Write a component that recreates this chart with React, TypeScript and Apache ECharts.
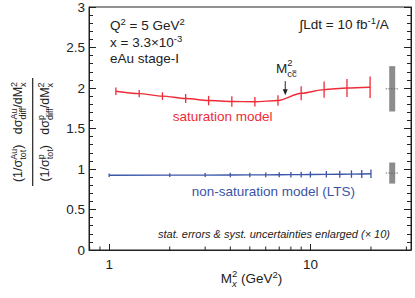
import React, { useEffect, useRef } from "react";
import * as echarts from "echarts";

const FONT = '"Liberation Sans", Arial, Helvetica, sans-serif';
const RED = "#ee2c38";
const BLUE = "#3a55a8";
const INK = "#222222";

// ---- data ----
const redX = [1.08, 1.41, 1.84, 2.4, 3.12, 4.07, 5.3, 6.9, 9.0, 11.7, 15.2, 19.8];
const redY = [1.96, 1.93, 1.9, 1.87, 1.845, 1.833, 1.83, 1.845, 1.935, 1.98, 2.0, 2.01];
const redErr = [0.045, 0.045, 0.047, 0.055, 0.058, 0.065, 0.058, 0.065, 0.086, 0.1, 0.11, 0.132];

const blueX = [1, 2, 3, 4, 5, 6, 7, 8, 9, 10, 12, 14, 16, 18, 20];
const blueY = [0.922, 0.924, 0.925, 0.926, 0.927, 0.928, 0.929, 0.93, 0.931, 0.932, 0.934, 0.936, 0.937, 0.939, 0.941];
const blueErr = [0.022, 0.024, 0.025, 0.027, 0.028, 0.03, 0.032, 0.034, 0.036, 0.038, 0.04, 0.043, 0.046, 0.05, 0.053];

// systematic uncertainty bands: [x, centre, half-height]
const sysRed = [25.5, 1.99, 0.28];
const sysBlue = [25.5, 0.95, 0.13];

const xMajorLabels = [1, 10];
const xMinorTicks = [0.8, 0.9, 2, 3, 4, 5, 6, 7, 8, 9, 20, 30];
const X_MIN = 0.794;
const X_MAX = 31.62;
const yTicks = ["0", "0.5", "1", "1.5", "2", "2.5", "3"];
const mccX = 7.5;

// ---- text layout helpers ----
let ctx: CanvasRenderingContext2D | null = null;
function tw(text: string, size: number, italic = false): number {
  if (!ctx) ctx = document.createElement("canvas").getContext("2d");
  if (!ctx) return text.length * size * 0.55;
  ctx.font = `${italic ? "italic " : ""}${size}px ${FONT}`;
  return ctx.measureText(text).width;
}
type Seg = { t: string; s: number; dy?: number; it?: boolean };
type Item = Seg | { stack: [Seg, Seg] };
function segW(g: Item): number {
  if ("stack" in g) return Math.max(tw(g.stack[0].t, g.stack[0].s, g.stack[0].it), tw(g.stack[1].t, g.stack[1].s, g.stack[1].it));
  return tw(g.t, g.s, g.it);
}
function build(items: Item[], x0: number, yb: number, fill: string, align: "left" | "center" = "left"): any[] {
  const total = items.reduce((a, g) => a + segW(g), 0);
  let x = align === "center" ? x0 - total / 2 : x0;
  const out: any[] = [];
  const put = (g: Seg, px: number) =>
    out.push({
      type: "text",
      x: px,
      y: yb + (g.dy || 0) - 0.35 * g.s,
      silent: true,
      style: {
        text: g.t,
        fill,
        fontSize: g.s,
        fontFamily: FONT,
        fontStyle: g.it ? "italic" : "normal",
        align: "left",
        textAlign: "left",
        verticalAlign: "middle",
        textVerticalAlign: "middle",
      },
    });
  for (const g of items) {
    if ("stack" in g) {
      put(g.stack[0], x);
      put(g.stack[1], x);
    } else put(g, x);
    x += segW(g);
  }
  return out;
}

const M = 13.5; // main font size
const S = 9.5; // script size
const SUP = -5.5;

function yLabelLine(target: string): Item[] {
  const m = 12.5;
  const s = 9;
  return [
    { t: "(1/σ", s: m },
    { stack: [{ t: target, s, dy: -5.5 }, { t: "tot", s, dy: 3.5 }] },
    { t: ")   dσ", s: m },
    { stack: [{ t: target, s, dy: -5.5 }, { t: "diff", s, dy: 3.5 }] },
    { t: "/dM", s: m },
    { stack: [{ t: "2", s, dy: -5.5 }, { t: "x", s, dy: 3.5 }] },
  ];
}

export default function App() {
  const ref = useRef<HTMLDivElement>(null);
  useEffect(() => {
    if (!ref.current) return;
    const chart = echarts.init(ref.current, undefined, { renderer: "svg" });
    const axisLine = { show: true, lineStyle: { color: INK, width: 1 } };
    const option: any = {
      animation: false,
      backgroundColor: "#ffffff",
      grid: { left: 89, right: 4, top: 5, bottom: 48, show: true, borderColor: INK, borderWidth: 1 },
      xAxis: {
        type: "log",
        logBase: 10,
        min: X_MIN,
        max: X_MAX,
        axisLine,
        axisTick: { show: true, inside: true, length: 6, lineStyle: { color: INK } },
        minorTick: { show: false },
        splitLine: { show: false },
        axisLabel: {
          margin: 7,
          fontSize: M,
          fontFamily: FONT,
          color: INK,
          showMinLabel: false,
          showMaxLabel: false,
          formatter: (v: number) => {
            const hit = xMajorLabels.find((m) => Math.abs(m - v) < 1e-6 * m);
            return hit !== undefined ? String(hit) : "";
          },
        },
      },
      yAxis: [
        {
          type: "value",
          min: 0,
          max: 3,
          interval: 0.5,
          axisLine,
          axisTick: { show: true, inside: true, length: 7, lineStyle: { color: INK } },
          minorTick: { show: true, splitNumber: 5, length: 4, lineStyle: { color: INK } },
          splitLine: { show: false },
          axisLabel: {
            margin: 4,
            fontSize: M,
            fontFamily: FONT,
            color: INK,
            formatter: (v: number) => yTicks[Math.round(v * 2)] ?? "",
          },
        },
        {
          type: "value",
          position: "right",
          min: 0,
          max: 3,
          interval: 0.5,
          axisLine,
          axisTick: { show: true, inside: true, length: 7, lineStyle: { color: INK } },
          minorTick: { show: true, splitNumber: 5, length: 4, lineStyle: { color: INK } },
          splitLine: { show: false },
          axisLabel: { show: false },
        },
      ],
      series: [
        {
          type: "custom",
          name: "xminor",
          silent: true,
          z: 5,
          data: xMinorTicks.map((v) => [v, 0]),
          renderItem: (params: any, api: any) => {
            const p = api.coord([api.value(0), 0]);
            return {
              type: "line",
              shape: { x1: p[0], y1: p[1], x2: p[0], y2: p[1] - 3.5 },
              style: { stroke: INK, lineWidth: 1 },
            };
          },
        },
        {
          type: "line",
          name: "saturation",
          data: redX.map((x, i) => [x, redY[i]]),
          smooth: 0.3,
          smoothMonotone: "x",
          showSymbol: false,
          lineStyle: { color: RED, width: 1.4 },
          z: 3,
        },
        {
          type: "line",
          name: "non-saturation",
          data: blueX.map((x, i) => [x, blueY[i]]),
          showSymbol: false,
          lineStyle: { color: BLUE, width: 1.4 },
          z: 3,
        },
        {
          type: "custom",
          name: "redErr",
          silent: true,
          z: 4,
          data: redX.map((x, i) => [x, redY[i], redErr[i]]),
          renderItem: (params: any, api: any) => {
            const x = api.value(0), y = api.value(1), e = api.value(2);
            const a = api.coord([x, y - e]);
            const b = api.coord([x, y + e]);
            return { type: "line", shape: { x1: a[0], y1: a[1], x2: b[0], y2: b[1] }, style: { stroke: RED, lineWidth: 1.3 } };
          },
        },
        {
          type: "custom",
          name: "blueErr",
          silent: true,
          z: 4,
          data: blueX.map((x, i) => [x, blueY[i], blueErr[i]]),
          renderItem: (params: any, api: any) => {
            const x = api.value(0), y = api.value(1), e = api.value(2);
            const a = api.coord([x, y - e]);
            const b = api.coord([x, y + e]);
            return { type: "line", shape: { x1: a[0], y1: a[1], x2: b[0], y2: b[1] }, style: { stroke: BLUE, lineWidth: 1.3 } };
          },
        },
        {
          type: "custom",
          name: "sys",
          silent: true,
          z: 4,
          data: [sysRed, sysBlue],
          renderItem: (params: any, api: any) => {
            const x = api.value(0), y = api.value(1), h = api.value(2);
            const top = api.coord([x, y + h]);
            const bot = api.coord([x, y - h]);
            const mid = api.coord([x, y]);
            return {
              type: "group",
              children: [
                { type: "rect", shape: { x: top[0] - 3, y: top[1], width: 6, height: bot[1] - top[1] }, style: { fill: "#8c8c8c" } },
                {
                  type: "line",
                  shape: { x1: mid[0] - 6.5, y1: mid[1], x2: mid[0] + 6.5, y2: mid[1] },
                  style: { stroke: "#555", lineWidth: 0.8, lineDash: [1.5, 1.2] },
                },
              ],
            };
          },
        },
      ],
    };
    chart.setOption(option);

    const aTop = chart.convertToPixel({ xAxisIndex: 0, yAxisIndex: 0 }, [mccX, 2.085]) as number[];
    const aTip = chart.convertToPixel({ xAxisIndex: 0, yAxisIndex: 0 }, [mccX, 1.91]) as number[];

    // M^2_{c cbar} label with an overline on the second c
    const mccX0 = 276;
    const mccYb = 73.3;
    const cX = mccX0 + tw("M", M) + tw("c", S);
    const cW = tw("c", S);
    const barY = mccYb + 3.5 - 0.55 * S - 0.6;

    const graphics: any[] = [
      ...build([{ t: "Q", s: M }, { t: "2", s: S, dy: SUP }, { t: " = 5 GeV", s: M }, { t: "2", s: S, dy: SUP }], 110, 30.5, INK),
      ...build([{ t: "x = 3.3×10", s: M }, { t: "-3", s: S, dy: SUP }], 110, 47, INK),
      ...build([{ t: "eAu stage-I", s: M }], 110, 63.5, INK),
      ...build([{ t: "∫", s: 14 }, { t: "Ldt = 10 fb", s: M }, { t: "-1", s: S, dy: SUP }, { t: "/A", s: M }], 299.5, 29.5, INK),
      ...build([{ t: "M", s: M }, { stack: [{ t: "2", s: S, dy: -7 }, { t: "cc", s: S, dy: 3.5 }] }], mccX0, mccYb, INK),
      {
        type: "line",
        silent: true,
        shape: { x1: cX + 0.3, y1: barY, x2: cX + cW - 0.3, y2: barY },
        style: { stroke: INK, lineWidth: 0.9 },
      },
      ...build([{ t: "saturation model", s: M }], 172.7, 121, RED),
      ...build([{ t: "non-saturation model (LTS)", s: M }], 191.7, 196.5, BLUE),
      ...build([{ t: "stat. errors & syst. uncertainties enlarged (× 10)", s: 11, it: true }], 158, 238, INK),
      ...build(
        [
          { t: "M", s: M },
          { stack: [{ t: "2", s: S, dy: -6.5 }, { t: "x", s: S, dy: 3.5, it: true }] },
          { t: " (GeV", s: M },
          { t: "2", s: S, dy: SUP },
          { t: ")", s: M },
        ],
        220.7,
        283.3,
        INK
      ),
      {
        type: "line",
        silent: true,
        shape: { x1: aTop[0], y1: aTop[1], x2: aTip[0], y2: aTip[1] - 4 },
        style: { stroke: INK, lineWidth: 1 },
      },
      {
        type: "polygon",
        silent: true,
        shape: { points: [[aTip[0] - 2.5, aTip[1] - 6], [aTip[0] + 2.5, aTip[1] - 6], [aTip[0], aTip[1]]] },
        style: { fill: INK },
      },
      {
        type: "group",
        x: 32.7,
        y: 132,
        rotation: Math.PI / 2,
        children: [
          ...build(yLabelLine("Au"), 0, -10, INK, "center"),
          ...build(yLabelLine("p"), 0, 16.5, INK, "center"),
          { type: "line", shape: { x1: -54, y1: 0, x2: 54, y2: 0 }, style: { stroke: INK, lineWidth: 1.2 } },
        ],
      },
    ];
    chart.setOption({ graphic: { elements: graphics } });

    return () => chart.dispose();
  }, []);
  return (
    <div
      ref={ref}
      style={{ position: "fixed", left: 0, top: 0, width: 415, height: 298, background: "#fff" }}
    />
  );
}
